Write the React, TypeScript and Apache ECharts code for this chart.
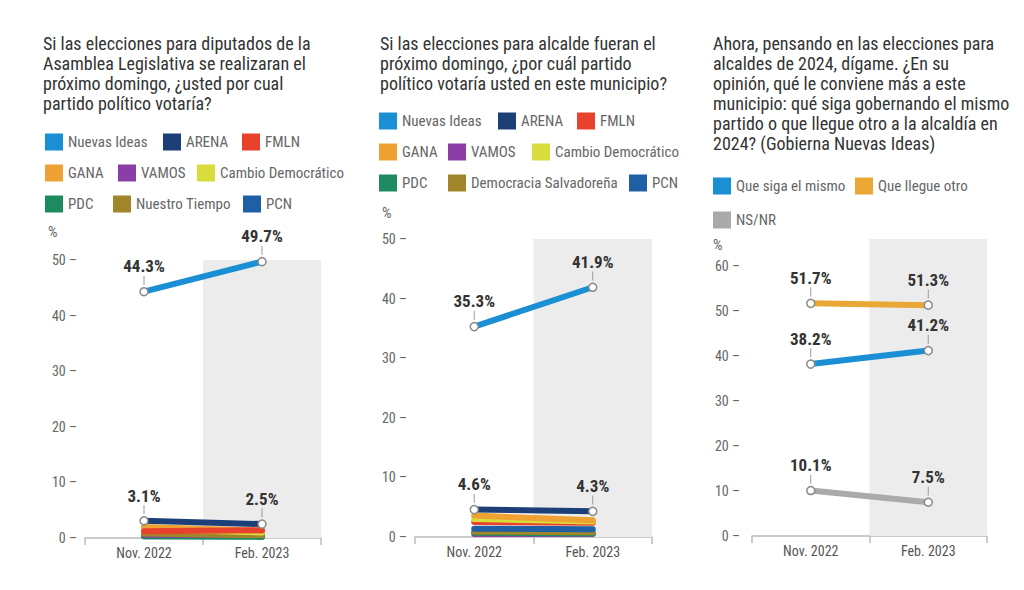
import React, { useEffect, useRef } from 'react';
import * as echarts from 'echarts';

const FONT = "'Liberation Sans Narrow', 'Roboto Condensed', 'DejaVu Sans Condensed', 'Arial Narrow', sans-serif";

const categories = ['Nov. 2022', 'Feb. 2023'];

// Panel 1: diputados
const dipNuevasIdeas = [44.3, 49.7];
const dipArena = [3.1, 2.5];
const dipFmln = [1.2, 1.4];
const dipGana = [2.0, 1.3];
const dipVamos = [0.6, 0.6];
const dipCambio = [1.6, 1.0];
const dipPdc = [0.3, 0.2];
const dipNuestroTiempo = [0.8, 0.5];
const dipPcn = [0.3, 0.3];

// Panel 2: alcalde
const alcNuevasIdeas = [35.3, 41.9];
const alcArena = [4.6, 4.3];
const alcFmln = [2.5, 2.4];
const alcGana = [3.6, 2.8];
const alcVamos = [0.5, 0.5];
const alcCambio = [3.0, 2.6];
const alcPdc = [0.7, 0.6];
const alcDemocracia = [0.9, 0.8];
const alcPcn = [1.4, 1.3];

// Panel 3: conveniencia
const queSiga = [38.2, 41.2];
const queLlegue = [51.7, 51.3];
const nsnr = [10.1, 7.5];

const yMax = [50, 50, 66];
const bandTop = [50, 50, 66];

const titles = [
  'Si las elecciones para diputados de la\nAsamblea Legislativa se realizaran el\npróximo domingo, ¿usted por cual\npartido político votaría?',
  'Si las elecciones para alcalde fueran el\npróximo domingo, ¿por cuál partido\npolítico votaría usted en este municipio?',
  'Ahora, pensando en las elecciones para\nalcaldes de 2024, dígame. ¿En su\nopinión, qué le conviene más a este\nmunicipio: qué siga gobernando el mismo\npartido o que llegue otro a la alcaldía en\n2024? (Gobierna Nuevas Ideas)',
];

const C = {
  nuevas: '#1b8fd4',
  arena: '#1d3f78',
  fmln: '#e8412c',
  gana: '#eea233',
  vamos: '#8d3ea6',
  cambio: '#d8dc3c',
  pdc: '#1e8a5f',
  olive: '#a0852a',
  pcn: '#1f5fa6',
  siga: '#1b8fd4',
  llegue: '#e9a736',
  ns: '#aaaaaa',
};

const labelCfg = {
  show: true,
  position: 'top',
  distance: 2,
  formatter: (p: any) => `{v|${Number(p.value).toFixed(1)}%}\n{t| }`,
  rich: {
    v: { fontSize: 17, fontWeight: 'bold', color: '#333', fontFamily: FONT, lineHeight: 19, align: 'center' },
    t: { width: 1, height: 9, backgroundColor: '#9a9a9a', align: 'center' },
  },
};

function line(name: string, values: number[], color: string, gi: number, labeled: boolean) {
  return {
    type: 'line',
    name,
    xAxisIndex: gi,
    yAxisIndex: gi,
    data: values.map((v) =>
      labeled ? { value: v, itemStyle: { color: '#fff', borderColor: '#8a8a8a', borderWidth: 1.5 } } : v
    ),
    itemStyle: { color },
    lineStyle: { width: 6, color, cap: 'round' },
    symbol: 'circle',
    symbolSize: 8,
    showSymbol: labeled,
    z: labeled ? 6 : 3,
    label: labeled ? labelCfg : { show: false },
    emphasis: { disabled: true },
    silent: true,
  };
}

function band(gi: number) {
  return {
    type: 'bar',
    xAxisIndex: gi,
    yAxisIndex: gi,
    data: ['-', bandTop[gi]],
    barWidth: '100%',
    itemStyle: { color: '#ececec' },
    silent: true,
    z: 0,
  };
}

function leg(name: string, left: number, cy: number) {
  return {
    data: [name],
    left,
    top: cy - 8.5,
    icon: 'rect',
    itemWidth: 18,
    itemHeight: 17,
    padding: 0,
    itemGap: 0,
    textStyle: { color: '#666', fontSize: 15, fontFamily: FONT },
  };
}

const grids = [
  { left: 85, top: 260, width: 236, height: 278 },
  { left: 415, top: 239, width: 237, height: 298 },
  { left: 752, top: 239, width: 235, height: 297 },
];

export default function App() {
  const ref = useRef<HTMLDivElement>(null);
  useEffect(() => {
    document.body.style.margin = '0';
    if (!ref.current) return;
    const chart = echarts.init(ref.current, undefined, { renderer: 'svg' });
    const option: any = {
      animation: false,
      backgroundColor: '#fff',
      title: titles.map((t, i) => ({
        text: t,
        left: [43, 380, 713][i],
        top: 33,
        padding: 0,
        textStyle: { fontSize: 18, fontWeight: 'normal', color: '#333', lineHeight: 20, fontFamily: FONT },
      })),
      legend: [
        leg('Nuevas Ideas', 45, 142),
        leg('ARENA', 163, 142),
        leg('FMLN', 242, 142),
        leg('GANA', 45, 173),
        leg('VAMOS', 118, 173),
        leg('Cambio Democrático', 197, 173),
        leg('PDC', 45, 204),
        leg('Nuestro Tiempo', 113, 204),
        leg('PCN', 243, 204),
        leg('Nuevas Ideas', 379, 121),
        leg('ARENA', 498, 121),
        leg('FMLN', 577, 121),
        leg('GANA', 379, 152),
        leg('VAMOS', 448, 152),
        leg('Cambio Democrático', 532, 152),
        leg('PDC', 379, 183),
        leg('Democracia Salvadoreña', 448, 183),
        leg('PCN', 629, 183),
        leg('Que siga el mismo', 713, 186),
        leg('Que llegue otro', 855, 186),
        leg('NS/NR', 713, 220),
      ],
      grid: grids,
      xAxis: grids.map((_, i) => ({
        type: 'category',
        gridIndex: i,
        data: categories,
        axisLine: { lineStyle: { color: '#bbb', width: 1.5 } },
        axisTick: { show: true, length: 7, lineStyle: { color: '#bbb', width: 1.5 } },
        axisLabel: { color: '#555', fontSize: 14, margin: 8, fontFamily: FONT },
      })),
      yAxis: grids.map((_, i) => ({
        type: 'value',
        gridIndex: i,
        min: 0,
        max: yMax[i],
        interval: 10,
        axisLine: { show: false },
        axisTick: { show: false },
        splitLine: { show: false },
        axisLabel: {
          color: '#666',
          fontSize: 14,
          margin: i === 2 ? 12 : 8,
          fontFamily: FONT,
          showMaxLabel: i !== 2,
          formatter: (v: number) => `${v} –`,
        },
      })),
      graphic: [
        { type: 'text', left: 48, top: 224, style: { text: '%', fill: '#666', font: `15px ${FONT}` } },
        { type: 'text', left: 382, top: 205, style: { text: '%', fill: '#666', font: `15px ${FONT}` } },
        { type: 'text', left: 713, top: 237, style: { text: '%', fill: '#666', font: `15px ${FONT}` } },
      ],
      series: [
        band(0),
        band(1),
        band(2),
        line('PCN', dipPcn, C.pcn, 0, false),
        line('PDC', dipPdc, C.pdc, 0, false),
        line('VAMOS', dipVamos, C.vamos, 0, false),
        line('Nuestro Tiempo', dipNuestroTiempo, C.olive, 0, false),
        line('Cambio Democrático', dipCambio, C.cambio, 0, false),
        line('GANA', dipGana, C.gana, 0, false),
        line('FMLN', dipFmln, C.fmln, 0, false),
        line('ARENA', dipArena, C.arena, 0, true),
        line('Nuevas Ideas', dipNuevasIdeas, C.nuevas, 0, true),
        line('VAMOS', alcVamos, C.vamos, 1, false),
        line('PDC', alcPdc, C.pdc, 1, false),
        line('Democracia Salvadoreña', alcDemocracia, C.olive, 1, false),
        line('PCN', alcPcn, C.pcn, 1, false),
        line('FMLN', alcFmln, C.fmln, 1, false),
        line('Cambio Democrático', alcCambio, C.cambio, 1, false),
        line('GANA', alcGana, C.gana, 1, false),
        line('ARENA', alcArena, C.arena, 1, true),
        line('Nuevas Ideas', alcNuevasIdeas, C.nuevas, 1, true),
        line('Que siga el mismo', queSiga, C.siga, 2, true),
        line('Que llegue otro', queLlegue, C.llegue, 2, true),
        line('NS/NR', nsnr, C.ns, 2, true),
      ],
    };
    chart.setOption(option);
    return () => chart.dispose();
  }, []);
  return <div ref={ref} style={{ width: 1024, height: 590 }} />;
}
